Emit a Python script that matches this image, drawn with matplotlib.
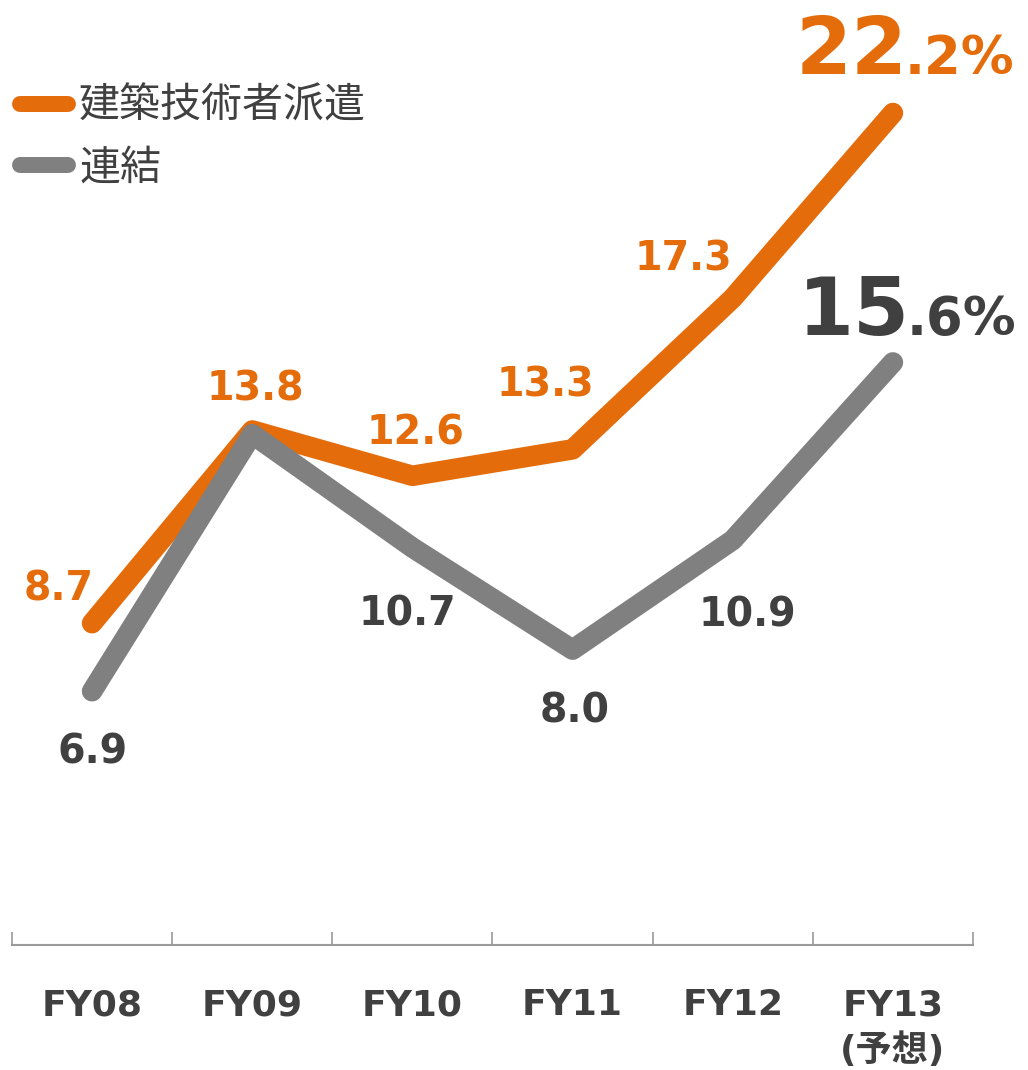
import matplotlib
matplotlib.use("Agg")
import matplotlib.pyplot as plt
from matplotlib.lines import Line2D

# ---- data ----
categories = ["FY08", "FY09", "FY10", "FY11", "FY12", "FY13\n(予想)"]
dispatch = [8.7, 13.8, 12.6, 13.3, 17.3, 22.2]      # 建築技術者派遣
consolidated = [6.9, 13.7, 10.7, 8.0, 10.9, 15.6]   # 連結
series_names = ["建築技術者派遣", "連結"]
dispatch_labels = ["8.7", "13.8", "12.6", "13.3", "17.3"]
consolidated_labels = ["6.9", None, "10.7", "8.0", "10.9"]
final_dispatch = ("22", ".2%")
final_consolidated = ("15", ".6%")

ORANGE = "#E46C0A"
GRAY_LINE = "#808080"
DARK = "#404040"
AXIS = "#9a9a9a"

plt.rcParams["font.family"] = ["DejaVu Sans", "Noto Sans CJK JP"]

W, H = 1028, 1070
fig = plt.figure(figsize=(W / 100, H / 100), dpi=100)
ax = fig.add_axes([12 / W, 125 / H, 961 / W, 945 / H])

x = list(range(len(categories)))
ax.set_xlim(-0.5, len(categories) - 0.5)
ax.set_ylim(0.185, 25.19)

lw = 14.8
ax.plot(x, dispatch, color=ORANGE, lw=lw, solid_capstyle="round",
        solid_joinstyle="round", clip_on=False, zorder=3)
ax.plot(x, consolidated, color=GRAY_LINE, lw=lw, solid_capstyle="round",
        solid_joinstyle="round", clip_on=False, zorder=4)

# ---- spines / ticks ----
for s in ["top", "left", "right"]:
    ax.spines[s].set_visible(False)
ax.spines["bottom"].set_color(AXIS)
ax.spines["bottom"].set_linewidth(1.5)
ax.set_yticks([])
ax.set_xticks(x)
ax.set_xticklabels(categories, fontsize=26, fontweight="bold", color=DARK,
                   linespacing=1.35)
ax.tick_params(axis="x", which="major", length=0, pad=31)
ax.set_xticks([i - 0.5 for i in range(len(categories) + 1)], minor=True)
ax.tick_params(axis="x", which="minor", direction="in", length=9.5,
               width=1.2, color=AXIS)

# ---- data labels ----
d_off = [(-33, 23), (3, 30), (3, 31), (-27, 53), (-49, 28)]
c_off = [(0, -72), None, (-5, -78), (2, -73), (15, -86)]
for i, lab in enumerate(dispatch_labels):
    ax.annotate(lab, (x[i], dispatch[i]), xytext=d_off[i],
                textcoords="offset pixels", ha="center", va="baseline",
                fontsize=28.5, fontweight="bold", color=ORANGE)
for i, lab in enumerate(consolidated_labels):
    if lab is None:
        continue
    ax.annotate(lab, (x[i], consolidated[i]), xytext=c_off[i],
                textcoords="offset pixels", ha="center", va="baseline",
                fontsize=28.5, fontweight="bold", color=DARK)

# final big labels
for vals, parts, off, col in [(dispatch, final_dispatch, (15, 39), ORANGE),
                              (consolidated, final_consolidated, (17, 27), DARK)]:
    ax.annotate(parts[0], (x[-1], vals[-1]), xytext=off,
                textcoords="offset pixels", ha="right", va="baseline",
                fontsize=58, fontweight="bold", color=col)
    ax.annotate(parts[1], (x[-1], vals[-1]), xytext=(off[0] - 3, off[1]),
                textcoords="offset pixels", ha="left", va="baseline",
                fontsize=38, fontweight="bold", color=col)

# ---- legend ----
handles = [Line2D([], [], color=ORANGE, lw=11.5, solid_capstyle="round"),
           Line2D([], [], color=GRAY_LINE, lw=11.5, solid_capstyle="round")]
leg = fig.legend(handles, series_names, loc="upper left",
                 bbox_to_anchor=(20 / W, (H - 86) / H),
                 frameon=False, handlelength=1.17,
                 handletextpad=0.27, labelspacing=0.5, borderpad=0,
                 borderaxespad=0, labelcolor=DARK,
                 prop={"family": ["Noto Sans CJK JP"], "size": 29.5})

fig.savefig("out.png", dpi=100)
